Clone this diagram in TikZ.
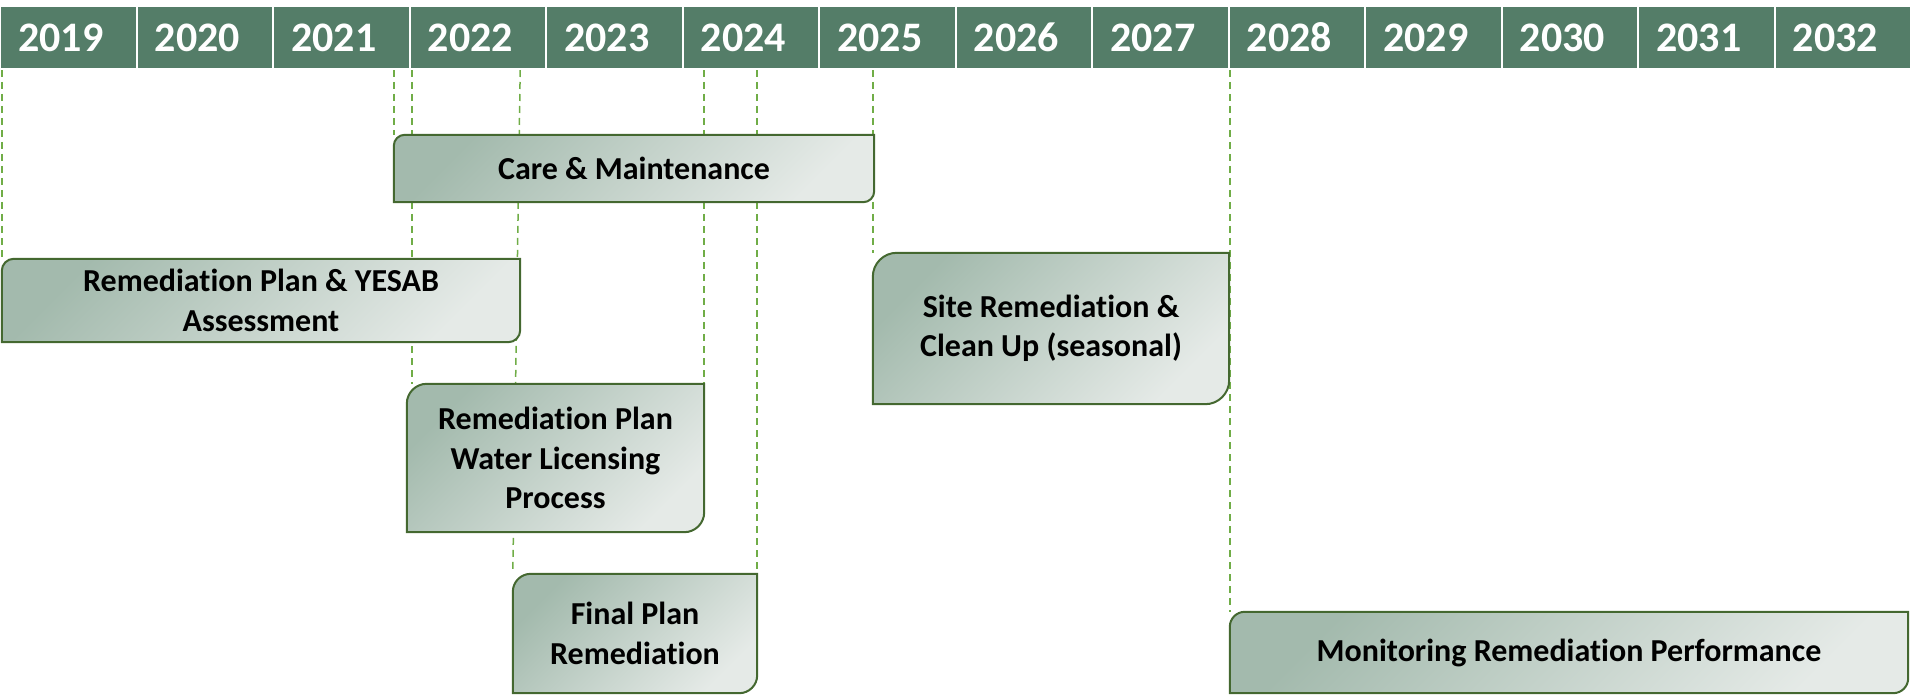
\documentclass[tikz,border=0pt]{standalone}
\usepackage{fontspec}
\setmainfont{Carlito}[Ligatures={NoCommon,NoContextual}]
\usetikzlibrary{backgrounds}

\definecolor{headgreen}{RGB}{84,125,104}
\definecolor{boxdark}{RGB}{163,186,173}
\definecolor{boxlight}{RGB}{229,234,231}
\definecolor{boxline}{RGB}{68,104,48}
\definecolor{markgreen}{RGB}{112,173,71}

\pgfdeclarelayer{markers}
\pgfsetlayers{markers,background,main}

\tikzset{
  yearcell/.style={fill=headgreen, draw=white, line width=2pt, text=white,
    font=\bfseries\fontsize{42}{42}\selectfont, minimum height=63pt,
    text width=100pt, inner xsep=18.25pt, inner ysep=0pt, align=left},
  phase/.style={inner sep=0pt, align=center,
    font=\bfseries\fontsize{32}{39.5}\selectfont},
  boxshape/.style={draw=boxline, line width=2pt, top color=boxdark,
    bottom color=boxlight, shading angle=45},
  marker/.style={draw=markgreen, line width=1.5pt, dash pattern=on 7pt off 5pt}
}

% box with round top left and bottom right corners
\newcommand{\diagshape}[2]{%
  \draw[boxshape] (#1.south west) -- ([yshift=-#2pt]#1.north west)
    arc[start angle=180, end angle=90, radius=#2pt]
    -- (#1.north east) -- ([yshift=#2pt]#1.south east)
    arc[start angle=0, end angle=-90, radius=#2pt] -- cycle;}

\begin{document}
\begin{tikzpicture}[x=1pt,y=1pt]
\path[use as bounding box] (0,0) rectangle (1911,-695);

\foreach \yr [count=\i from 0] in {2019,...,2032}
  \node[yearcell] (y\yr) at ({68.25+136.5*\i},-37.5) {\yr};

\node[phase, minimum width=480pt, minimum height=67pt] (care) at (634,-168.5) {Care \& Maintenance};
\node[phase, minimum width=518pt, minimum height=83pt] (yesab) at (261,-300.5) {Remediation Plan \& YESAB\\Assessment};
\node[phase, minimum width=297pt, minimum height=148pt] (water) at (555.5,-458) {Remediation Plan\\Water Licensing\\Process};
\node[phase, minimum width=356pt, minimum height=151pt] (site) at (1051,-328.5) {Site Remediation \&\\Clean Up (seasonal)};
\node[phase, minimum width=244pt, minimum height=119pt] (final) at (635,-633.5) {Final Plan\\Remediation};
\node[phase, minimum width=678pt, minimum height=81pt] (monitor) at (1569,-652.5) {Monitoring Remediation Performance};

\begin{pgfonlayer}{background}
\diagshape{care}{11}
\diagshape{yesab}{12}
\diagshape{water}{20}
\diagshape{site}{24}
\diagshape{final}{18}
\diagshape{monitor}{15}
\end{pgfonlayer}

\begin{pgfonlayer}{markers}
\path (water.north west) ++(5,0) coordinate (waterlead);
\draw[marker] (yesab.north west |- y2019.south) -- (yesab.north west);
\draw[marker] (care.north west |- y2019.south) -- (care.north west);
\draw[marker] (waterlead |- y2019.south) -- (waterlead);
\draw[marker] (yesab.north east |- y2019.south) -- (final.north west);
\draw[marker] (water.north east |- y2019.south) -- (water.north east);
\draw[marker] (final.north east |- y2019.south) -- (final.north east);
\draw[marker] (site.north west |- y2019.south) -- (site.north west);
\draw[marker] (monitor.north west |- y2019.south) -- (monitor.north west);
\end{pgfonlayer}
\end{tikzpicture}
\end{document}
